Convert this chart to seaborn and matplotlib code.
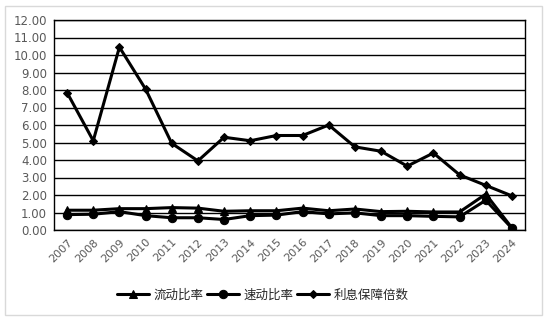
import matplotlib
matplotlib.use("Agg")
import matplotlib.pyplot as plt
import seaborn as sns
import pandas as pd
from matplotlib.patches import Rectangle

years = [str(y) for y in range(2007, 2025)]
current_ratio = [1.13, 1.13, 1.22, 1.22, 1.28, 1.25, 1.07, 1.10, 1.10, 1.25, 1.10, 1.20, 1.05, 1.07, 1.03, 1.03, 2.05, 0.12]
quick_ratio = [0.88, 0.90, 1.05, 0.82, 0.70, 0.70, 0.60, 0.82, 0.85, 1.05, 0.92, 0.98, 0.82, 0.82, 0.78, 0.75, 1.70, 0.10]
interest_cover = [7.85, 5.10, 10.45, 8.05, 4.95, 3.95, 5.30, 5.10, 5.40, 5.40, 6.00, 4.75, 4.50, 3.65, 4.40, 3.15, 2.55, 1.95]
series_names = ["流动比率", "速动比率", "利息保障倍数"]
y_ticks = [0, 1, 2, 3, 4, 5, 6, 7, 8, 9, 10, 11, 12]

sns.set_style("white")
plt.rcParams['font.family'] = ['DejaVu Sans', 'Noto Sans CJK SC']

rows = []
for name, vals in zip(series_names, [current_ratio, quick_ratio, interest_cover]):
    for i, (y, v) in enumerate(zip(years, vals)):
        rows.append({"idx": i, "year": y, "value": v, "series": name})
df = pd.DataFrame(rows)

fig = plt.figure(figsize=(5.47, 3.21), dpi=100)
ax = fig.add_axes([54/547, 1-230/321, (525-54)/547, (230-20)/321])

sns.lineplot(data=df, x="idx", y="value", hue="series", style="series",
             palette=["black"]*3, markers=["^", "o", "D"], dashes=False,
             markersize=6, linewidth=2.2, markeredgecolor="black",
             ax=ax, legend=True, sort=False)
for line in ax.lines:
    if line.get_marker() == "D":
        line.set_markersize(4.5)

ax.set_xlim(-0.5, 17.5)
ax.set_ylim(0, 12)
ax.set_yticks(y_ticks)
ax.set_yticklabels([f"{v:.2f}" for v in y_ticks])
ax.set_xticks(range(len(years)))
ax.set_xticklabels(years, rotation=45, ha="right", rotation_mode="anchor")
ax.set_xticks([i + 0.5 for i in range(len(years) - 1)], minor=True)
ax.tick_params(axis="x", which="major", length=0, pad=5, labelsize=8, labelcolor="#595959")
ax.tick_params(axis="x", which="minor", direction="in", length=5, width=1, color="black")
ax.tick_params(axis="y", length=0, labelsize=8.5, labelcolor="#595959", pad=5)
ax.grid(axis="y", color="black", linewidth=1)
ax.set_axisbelow(True)
for s in ax.spines.values():
    s.set_color("black")
    s.set_linewidth(1)
    s.set_visible(True)
ax.set_xlabel("")
ax.set_ylabel("")

handles, labels = ax.get_legend_handles_labels()
leg = ax.legend(handles, labels, loc="center", bbox_to_anchor=(0.48, 26/321), bbox_transform=fig.transFigure,
          ncol=3, frameon=False, fontsize=9, handlelength=2.6, handletextpad=0.3, columnspacing=0.3)
for t in leg.get_texts():
    t.set_fontfamily(['Noto Sans CJK SC', 'DejaVu Sans'])

fig.patches.append(Rectangle((5/547, 6/321), 537/547, 1-12/321, transform=fig.transFigure,
                             fill=False, edgecolor="#d9d9d9", linewidth=1))

fig.savefig("out.png", dpi=100)
